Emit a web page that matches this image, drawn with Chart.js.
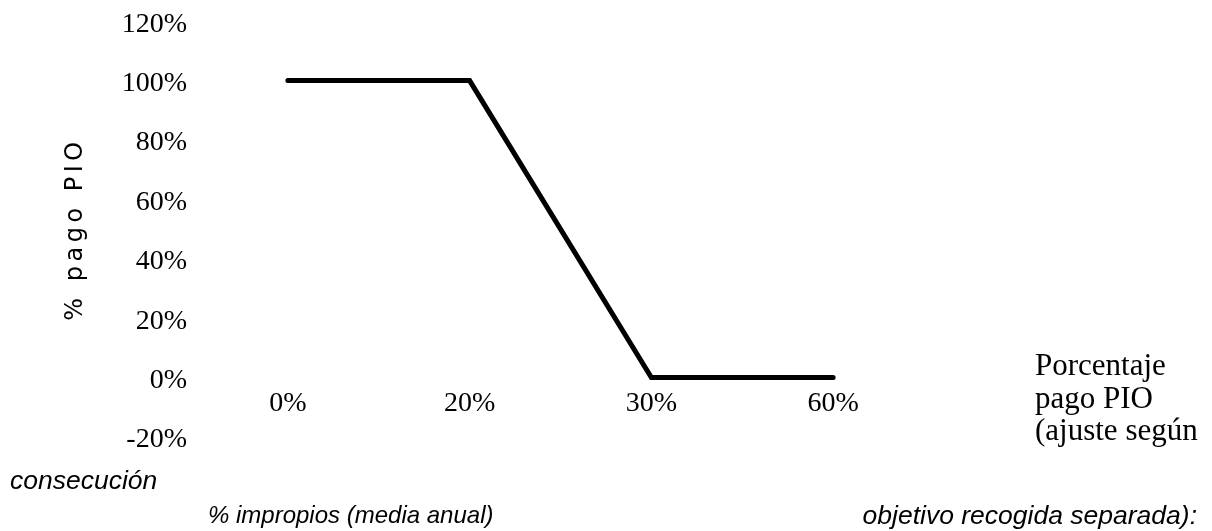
<!DOCTYPE html>
<html>
<head>
<meta charset="utf-8">
<script src="https://cdn.jsdelivr.net/npm/chart.js@4.4.1/dist/chart.umd.min.js"></script>
<style>
  html, body { margin: 0; padding: 0; background: #fff; }
  #wrap { position: relative; width: 1212px; height: 531px; }
</style>
</head>
<body>
<div id="wrap"><canvas id="c" width="1212" height="531"></canvas></div>
<script>
// datos
const categories = ['0%', '20%', '30%', '60%'];
const pagoPIO = [100, 100, 0, 0];
const yTicks = [-20, 0, 20, 40, 60, 80, 100, 120];

const serif = '"Liberation Serif", "Times New Roman", serif';
const sans = '"Liberation Sans", Arial, sans-serif';

// textos sueltos: leyenda, título del eje y y el título del eje x partido
const textos = {
  id: 'textos',
  afterDraw(chart){
    const ctx = chart.ctx;
    ctx.save();
    ctx.fillStyle = '#000';
    // título eje y
    ctx.save();
    ctx.translate(76, 231);
    ctx.rotate(-Math.PI/2);
    ctx.font = '24px "DejaVu Sans", sans-serif';
    if ('letterSpacing' in ctx) ctx.letterSpacing = '4.5px';
    ctx.textAlign = 'center';
    ctx.textBaseline = 'middle';
    ctx.fillText('% pago PIO', 2, 0);
    ctx.restore();
    // leyenda
    ctx.font = '31px ' + serif;
    ctx.textAlign = 'left';
    ctx.textBaseline = 'alphabetic';
    ['Porcentaje', 'pago PIO', '(ajuste según'].forEach((t, i) => ctx.fillText(t, 1035, 375 + i*32.5));
    // título eje x
    ctx.font = 'italic 26.5px ' + sans;
    ctx.fillText('consecución', 10, 489);
    ctx.textAlign = 'right';
    ctx.fillText('objetivo recogida separada):', 1197, 524);
    ctx.textAlign = 'left';
    ctx.font = 'italic 24px ' + sans;
    ctx.fillText('% impropios (media anual)', 208, 523);
    ctx.restore();
  }
};

new Chart(document.getElementById('c'), {
  type: 'line',
  data: {
    labels: categories,
    datasets: [{
      label: 'Porcentaje pago PIO',
      data: pagoPIO,
      borderColor: '#000',
      borderWidth: 5,
      borderCapStyle: 'round',
      borderJoinStyle: 'miter',
      pointRadius: 0,
      tension: 0,
      fill: false
    }]
  },
  options: {
    responsive: false,
    animation: false,
    layout: { padding: { left: 0, right: 288, top: 12, bottom: 94 } },
    plugins: { legend: { display: false }, tooltip: { enabled: false } },
    scales: {
      x: {
        position: { y: 0 },
        offset: true,
        grid: { display: false, drawTicks: false },
        border: { display: false },
        ticks: { color: '#000', font: { family: serif, size: 28 }, padding: 9, maxRotation: 0 }
      },
      y: {
        min: -20, max: 120,
        afterBuildTicks: s => { s.ticks = yTicks.map(v => ({ value: v })); },
        afterFit: s => { s.width = 197; },
        grid: { display: false, drawTicks: false },
        border: { display: false },
        ticks: { color: '#000', font: { family: serif, size: 28, lineHeight: 0.8 }, padding: 10, labelOffset: 3, callback: v => v + '%' }
      }
    }
  },
  plugins: [textos]
});
</script>
</body>
</html>
